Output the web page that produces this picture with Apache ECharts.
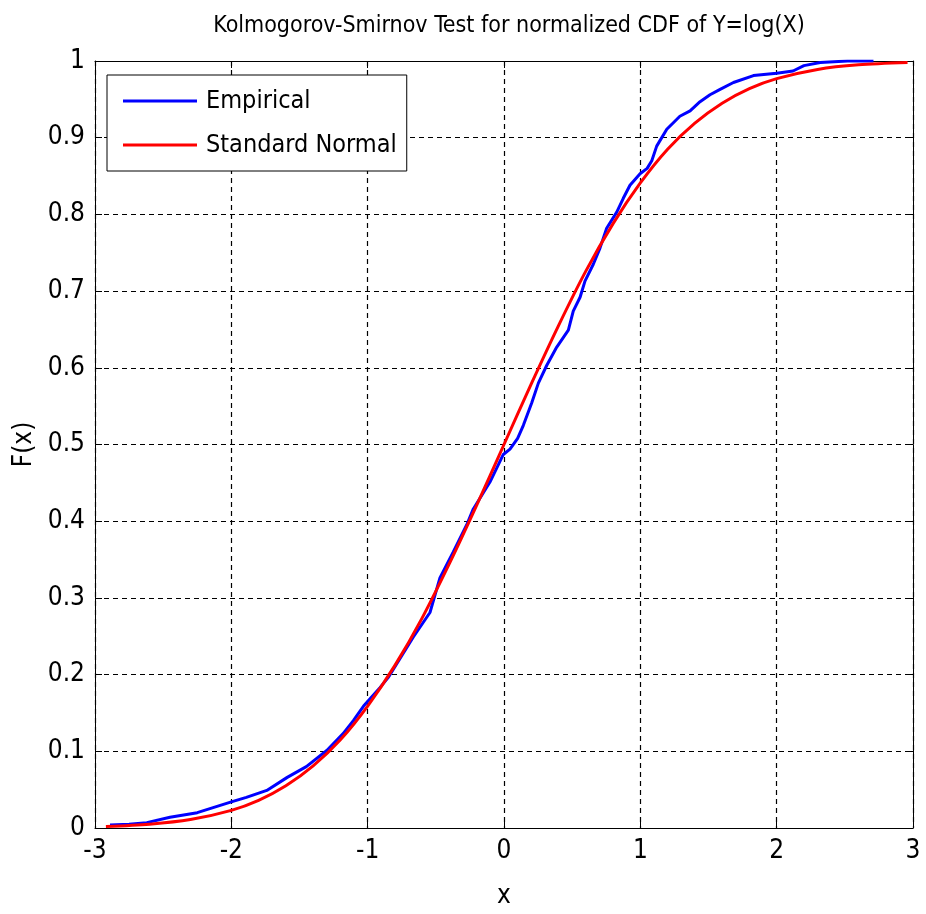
<!DOCTYPE html>
<html>
<head>
<meta charset="utf-8">
<script src="https://cdn.jsdelivr.net/npm/echarts@6/dist/echarts.min.js"></script>
<style>
html,body{margin:0;padding:0;background:#fff;}
#chart{width:926px;height:914px;}
</style>
</head>
<body>
<div id="chart"></div>
<script>
// Empirical CDF (x, F(x))
const empiricalX = [-2.89,-2.75,-2.62,-2.45,-2.25,-2.0,-1.89,-1.74,-1.59,-1.45,-1.30,-1.18,-1.105,-1.03,-0.91,-0.85,-0.665,-0.543,-0.47,-0.372,-0.274,-0.225,-0.103,-0.005,0.044,0.1,0.142,0.203,0.252,0.313,0.387,0.472,0.508,0.558,0.594,0.655,0.704,0.753,0.827,0.875,0.924,0.998,1.05,1.084,1.12,1.194,1.29,1.365,1.438,1.511,1.585,1.683,1.83,2.0,2.12,2.20,2.32,2.52,2.71];
const empiricalF = [0.004,0.005,0.007,0.014,0.020,0.034,0.040,0.049,0.066,0.080,0.101,0.123,0.140,0.159,0.183,0.196,0.249,0.281,0.326,0.360,0.395,0.416,0.451,0.487,0.494,0.508,0.525,0.554,0.580,0.603,0.627,0.649,0.674,0.692,0.713,0.735,0.756,0.782,0.803,0.821,0.838,0.853,0.860,0.870,0.889,0.911,0.928,0.935,0.947,0.956,0.963,0.972,0.981,0.984,0.987,0.994,0.998,1.0,1.0];
// Standard normal CDF curve
const normalX = [-2.92,-2.6,-2.3,-2.0,-1.8,-1.6,-1.4,-1.2,-1.0,-0.8,-0.6,-0.4,-0.2,0,0.2,0.4,0.6,0.8,1.0,1.2,1.4,1.6,1.8,2.0,2.3,2.6,2.96];
const normalF = [0.002,0.005,0.011,0.023,0.036,0.055,0.081,0.115,0.159,0.212,0.274,0.345,0.421,0.5,0.579,0.655,0.726,0.788,0.841,0.885,0.919,0.945,0.964,0.977,0.989,0.995,0.998];
const xTickLabels = ['-3','-2','-1','0','1','2','3'];
const yTickLabels = ['0','0.1','0.2','0.3','0.4','0.5','0.6','0.7','0.8','0.9','1'];

const FONT = '"Liberation Sans Narrow","DejaVu Sans Condensed","Liberation Sans",sans-serif';
const chart = echarts.init(document.getElementById('chart'));
const gridLine = {show:true, lineStyle:{color:'#000', width:1.2, type:[5,4]}};
const axisBase = {
  axisLine:{show:true, onZero:false, lineStyle:{color:'#000', width:1}},
  axisTick:{show:true, inside:true, length:7, lineStyle:{color:'#000'}},
};
chart.setOption({
  backgroundColor:'#fff',
  animation:false,
  title:{
    text:'Kolmogorov-Smirnov Test for normalized CDF of Y=log(X)',
    left:504, textAlign:'center', top:10,
    textStyle:{fontFamily:FONT, fontSize:23, fontWeight:'normal', color:'#000'}
  },
  legend:{
    left:107, top:75, orient:'vertical',
    padding:[11,10,11,16], itemGap:14,
    itemWidth:74, itemHeight:3,
    backgroundColor:'#fff', borderColor:'#000', borderWidth:1, borderRadius:0,
    textStyle:{fontFamily:FONT, fontSize:25, color:'#000', padding:[0,0,0,4], lineHeight:30},
    data:[{name:'Empirical', icon:'rect'},{name:'Standard Normal', icon:'rect'}]
  },
  grid:{left:95, right:13, top:61, bottom:78, containLabel:false},
  xAxis:[
    Object.assign({}, axisBase, {
      type:'value', min:-3, max:3, interval:1, position:'bottom',
      name:'x', nameLocation:'middle', nameGap:55,
      nameTextStyle:{fontFamily:FONT, fontSize:26, color:'#000'},
      axisLabel:{fontFamily:FONT, fontSize:26, color:'#000', margin:10,
        formatter:(v)=>xTickLabels[Math.round(v+3)]},
      splitLine:gridLine
    }),
    Object.assign({}, axisBase, {
      type:'value', min:-3, max:3, interval:1, position:'top',
      axisLabel:{show:false}, splitLine:{show:false}
    })
  ],
  yAxis:[
    Object.assign({}, axisBase, {
      type:'value', min:0, max:1, interval:0.1, position:'left',
      name:'F(x)', nameLocation:'middle', nameGap:50,
      nameTextStyle:{fontFamily:FONT, fontSize:26, color:'#000'},
      axisLabel:{fontFamily:FONT, fontSize:26, color:'#000', margin:10,
        formatter:(v)=>yTickLabels[Math.round(v*10)]},
      splitLine:gridLine
    }),
    Object.assign({}, axisBase, {
      type:'value', min:0, max:1, interval:0.1, position:'right',
      axisLabel:{show:false}, splitLine:{show:false}
    })
  ],
  series:[
    {
      name:'Empirical', type:'line', showSymbol:false, symbol:'none',
      data:empiricalX.map((x,i)=>[x, empiricalF[i]]),
      lineStyle:{color:'#0000ff', width:3}, itemStyle:{color:'#0000ff'}, z:2
    },
    {
      name:'Standard Normal', type:'line', showSymbol:false, symbol:'none', smooth:0.3,
      data:normalX.map((x,i)=>[x, normalF[i]]),
      lineStyle:{color:'#ff0000', width:3}, itemStyle:{color:'#ff0000'}, z:3
    }
  ]
});
</script>
</body>
</html>
